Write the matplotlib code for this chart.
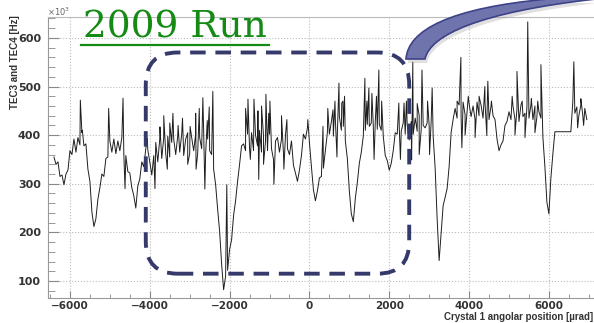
import numpy as np
import matplotlib.pyplot as plt
from matplotlib.patches import FancyBboxPatch, PathPatch
from matplotlib.path import Path
from matplotlib.lines import Line2D
from matplotlib.ticker import MultipleLocator

# crystal angle scan (step 50 urad)
angle = np.arange(-6400, 7000, 50)
rate = [
    355, 340, 345, 315, 318, 298, 320, 328, 368, 360,   # -6400
    392, 365, 395, 380, 405, 378, 382, 330, 305, 242,   # -5900
    212, 228, 268, 292, 320, 315, 352, 355, 388, 365,   # -5400
    392, 362, 388, 368, 395, 360, 358, 325, 322, 292,   # -4900
    275, 250, 295, 310, 345, 335, 372, 370, 345, 318,   # -4400
    358, 385, 345, 392, 352, 395, 362, 398, 355, 385,   # -3900
    392, 360, 398, 365, 402, 358, 392, 405, 362, 395,   # -3400
    368, 402, 362, 395, 372, 408, 362, 392, 368, 360,   # -2900
    330, 298, 248, 202, 135, 82, 110, 122, 165, 185,    # -2400
    235, 265, 305, 340, 378, 382, 368, 402, 372, 405,   # -1900
    368, 400, 378, 410, 365, 398, 388, 368, 402, 372,   # -1400
    350, 388, 395, 365, 392, 362, 400, 372, 360, 388,   # -900
    338, 322, 305, 328, 358, 402, 392, 415, 385, 335,   # -400
    288, 265, 285, 312, 315, 332, 368, 405, 402, 428,   # 100
    398, 432, 405, 438, 410, 418, 388, 352, 285, 238,   # 600
    222, 270, 302, 342, 365, 398, 410, 422, 418, 425,   # 1100
    420, 428, 412, 422, 410, 398, 358, 348, 328, 342,   # 1600
    368, 405, 402, 418, 408, 425, 402, 420, 390, 428,   # 2100
    402, 435, 408, 440, 410, 420, 415, 425, 420, 428,   # 2600
    398, 332, 228, 142, 198, 255, 272, 290, 335, 405,   # 3100
    432, 455, 435, 462, 438, 468, 442, 448, 465, 438,   # 3600
    460, 432, 468, 440, 462, 435, 465, 442, 432, 460,   # 4100
    440, 432, 392, 368, 380, 388, 420, 428, 448, 432,   # 4600
    460, 432, 455, 428, 462, 438, 445, 458, 435, 462,   # 5100
    432, 460, 438, 448, 435, 395, 335, 262, 238, 312,   # 5600
    362, 407, 407, 407, 407, 407, 407, 407, 407, 407,   # 6100
    470, 445, 458, 440, 462, 440, 455, 432,             # 6600
]

# single-bin spikes
spike_x = [-5740, -5690, -5030, -4670, -4620, -4060, -3870, -3745, -3650, -3560,
           -3500, -3420, -3290, -3180, -3050, -2990, -2850, -2840, -2760, -2670,
           -2620, -2560, -2510, -2420, -2070, -1600, -1540, -1480, -1390, -1290,
           -1270, -1200, -1150, -1090, -1020, -990, -890, -700, -640, -565,
           -40, 340, 460, 590, 640, 690, 740, 810, 840, 880,
           1390, 1440, 1490, 1565, 1620, 1680, 1740, 1810, 2240, 2280,
           2370, 2430, 2560, 2590, 2700, 2750, 2820, 2960, 3010, 3075,
           3700, 3795, 3820, 3900, 3980, 4150, 4250, 4395, 4445, 4470,
           4560, 5080, 5150, 5200, 5330, 5400, 5470, 5560, 5650, 5720,
           5800, 6625, 6720, 6800, 6870]
spike_y = [472, 410, 455, 476, 290, 393, 290, 417, 440, 330,
           425, 445, 420, 435, 340, 418, 445, 330, 455, 477,
           289, 430, 458, 490, 298, 455, 474, 350, 474, 450,
           309, 460, 340, 484, 445, 470, 299, 440, 330, 432,
           432, 418, 455, 452, 470, 355, 507, 466, 470, 480,
           517, 470, 497, 486, 350, 480, 534, 470, 466, 350,
           466, 470, 349, 550, 465, 360, 534, 470, 360, 497,
           470, 560, 374, 400, 480, 395, 480, 500, 399, 511,
           470, 480, 400, 531, 470, 395, 633, 475, 405, 470,
           545, 551, 415, 475, 420]

W, H = 594, 323

x_all = np.concatenate([angle, spike_x])
y_all = np.concatenate([rate, spike_y])
order = np.argsort(x_all, kind='stable')

fig = plt.figure(figsize=(W / 100, H / 100), dpi=100)
ax = fig.add_axes([48 / W, 25 / H, 546 / W, 281 / H])
ax.plot(x_all[order], y_all[order], color='#1e1e1e', lw=0.7, zorder=3)

ax.set_xlim(-6550, 7130)
ax.set_ylim(65, 643)
ax.set_xticks([-6000, -4000, -2000, 0, 2000, 4000, 6000])
ax.xaxis.set_minor_locator(MultipleLocator(500))
ax.set_yticks([100, 200, 300, 400, 500, 600])
ax.yaxis.set_minor_locator(MultipleLocator(20))
ax.grid(True, which='major', linestyle=':', color='#bbbbbb', lw=0.8)

ax.tick_params(which='both', direction='in', color='#888888', labelcolor='#333333', labelsize=8)
ax.tick_params(axis='y', which='major', length=8, pad=5)
ax.tick_params(axis='y', which='minor', length=5)
ax.tick_params(axis='x', which='major', length=5, pad=2, labelsize=7.5)
ax.tick_params(axis='x', which='minor', length=3)
for lbl in ax.get_xticklabels() + ax.get_yticklabels():
    lbl.set_fontweight('bold')

ax.spines['right'].set_visible(False)
ax.spines['top'].set_color('#bbbbbb')
ax.spines['left'].set_color('#999999')
ax.spines['bottom'].set_color('#999999')

fig.text(593 / W, 1 - 316.5 / H, 'Crystal 1 angolar position [µrad]', ha='right', va='center',
         fontsize=7, fontweight='bold', family='Liberation Sans', color='#333333')
fig.text(15 / W, 1 - 15 / H, 'TEC3 and TEC4 [Hz]', rotation=90, ha='center', va='top',
         fontsize=7, fontweight='bold', family='Liberation Sans', color='#333333')
fig.text(47 / W, 1 - 12 / H, r'$\times10^{3}$', fontsize=6, color='#666666', ha='left', va='center')

# dashed rounded box around the 2009 range
box = FancyBboxPatch((-4100, 115), 6600, 455, boxstyle='round,pad=0,rounding_size=800',
                     mutation_aspect=0.0825, fill=False, ec='#363a6b', lw=2.8,
                     ls=(0, (4, 2.5)), zorder=6)
ax.add_patch(box)

# callout band
def P(x, y):
    return (x / W, 1 - y / H)

codes = [Path.MOVETO, Path.CURVE4, Path.CURVE4, Path.CURVE4, Path.LINETO,
         Path.CURVE4, Path.CURVE4, Path.CURVE4, Path.CLOSEPOLY]
pts = [(406, 59), (408, 30), (450, 8), (548, -1), (596, -1), (480, 12), (430, 35), (425, 59), (406, 59)]
shadow = Path([P(x + 2, y + 4) for x, y in pts], codes)
band = Path([P(x, y) for x, y in pts], codes)
fig.add_artist(PathPatch(shadow, transform=fig.transFigure, fc='#999999', ec='none', alpha=0.3))
fig.add_artist(PathPatch(band, transform=fig.transFigure, fc='#6f74ad', ec='#3d4289', lw=1.2))

# title with underline
green = '#158a15'
t = fig.text(175 / W, 1 - 38 / H, '2009 Run', ha='center', va='baseline', fontsize=27,
             family='DejaVu Serif', color=green, zorder=10)
fig.canvas.draw()
bb = t.get_window_extent(fig.canvas.get_renderer())
fig.add_artist(Line2D([bb.x0 / W - 0.004, bb.x1 / W + 0.004], [1 - 45 / H, 1 - 45 / H],
                      color=green, lw=1.6))

fig.savefig('out.png', dpi=100)
